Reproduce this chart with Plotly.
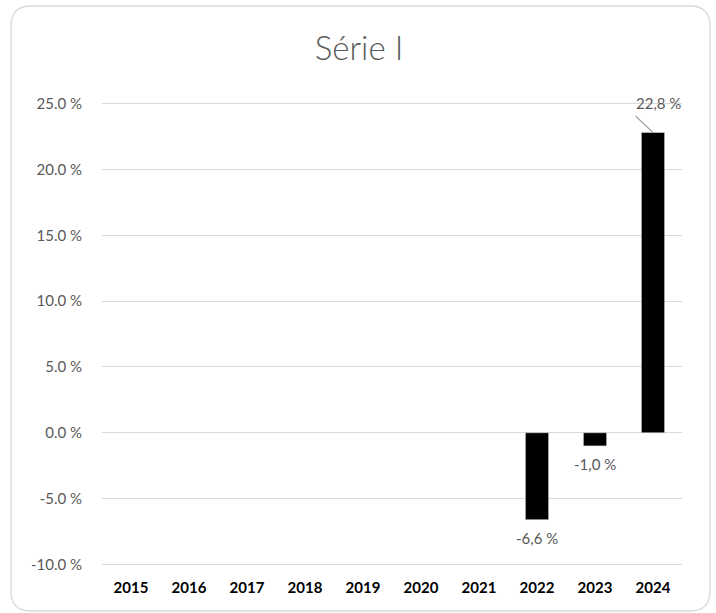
import plotly.graph_objects as go

years = ["2015", "2016", "2017", "2018", "2019", "2020", "2021", "2022", "2023", "2024"]
values = [None, None, None, None, None, None, None, -6.6, -1.0, 22.8]
labels = ["", "", "", "", "", "", "", "-6,6 %", "-1,0 %", "22,8 %"]
y_ticks = [-10, -5, 0, 5, 10, 15, 20, 25]
y_ticktext = ["-10.0 %", "-5.0 %", "0.0 %", "5.0 %", "10.0 %", "15.0 %", "20.0 %", "25.0 %"]
title = "Série I"

W, H = 716, 613
ML, MR, MT, MB = 102, 34, 102, 47
PW, PH = W - ML - MR, H - MT - MB

def px(x):
    return (x - ML) / PW

def py(y):
    return (H - MB - y) / PH

fig = go.Figure()
fig.add_trace(go.Bar(x=years, y=values, marker_color="#000000", hoverinfo="skip"))

font = "Lato, 'Open Sans', sans-serif"
gray = "#595959"

annotations = []
for i, (v, t) in enumerate(zip(values, labels)):
    if v is None:
        continue
    if v >= 0:
        annotations.append(dict(x=i, y=v, xref="x", yref="y", text=" ",
                                showarrow=True, arrowhead=0, arrowwidth=1.2,
                                arrowcolor="#a6a6a6", ax=-18, ay=-17,
                                axref="pixel", ayref="pixel", standoff=0,
                                borderpad=0, font=dict(size=1)))
        annotations.append(dict(x=i, y=v, xref="x", yref="y", text=t,
                                showarrow=False, xshift=5, yshift=30,
                                font=dict(family=font, size=15, color=gray)))
    else:
        annotations.append(dict(x=i, y=v, xref="x", yref="y", text=t,
                                showarrow=False, yshift=-18,
                                font=dict(family=font, size=15, color=gray)))

# rounded chart frame
x0, x1, y0, y1, r = 11, 710, 6, 611, 20
path = (f"M {px(x0+r):.5f} {py(y0):.5f} L {px(x1-r):.5f} {py(y0):.5f} "
        f"Q {px(x1):.5f} {py(y0):.5f} {px(x1):.5f} {py(y0+r):.5f} "
        f"L {px(x1):.5f} {py(y1-r):.5f} Q {px(x1):.5f} {py(y1):.5f} {px(x1-r):.5f} {py(y1):.5f} "
        f"L {px(x0+r):.5f} {py(y1):.5f} Q {px(x0):.5f} {py(y1):.5f} {px(x0):.5f} {py(y1-r):.5f} "
        f"L {px(x0):.5f} {py(y0+r):.5f} Q {px(x0):.5f} {py(y0):.5f} {px(x0+r):.5f} {py(y0):.5f} Z")

fig.update_layout(
    width=W, height=H,
    margin=dict(l=ML, r=MR, t=MT, b=MB),
    plot_bgcolor="white", paper_bgcolor="white",
    showlegend=False,
    bargap=0.6,
    title=dict(text=title, x=359 / W, xanchor="center",
               y=1 - 48 / H, yanchor="middle",
               font=dict(family=font, size=33, color=gray, weight=300)),
    annotations=annotations,
    shapes=[dict(type="path", path=path, xref="paper", yref="paper",
                 line=dict(color="#d9d9d9", width=1.3), layer="below")],
)
fig.update_xaxes(type="category", range=[-0.5, 9.5],
                 showgrid=False, showline=False, ticks="outside", ticklen=8,
                 tickcolor="rgba(0,0,0,0)",
                 tickfont=dict(family=font, size=15, color="#000000", weight="bold"))
fig.update_yaxes(range=[-10.12, 25.12], tickvals=y_ticks, ticktext=y_ticktext,
                 showgrid=True, gridcolor="#d9d9d9", gridwidth=1,
                 zeroline=False, showline=False, ticks="outside", ticklen=16,
                 tickcolor="rgba(0,0,0,0)",
                 tickfont=dict(family=font, size=15, color=gray))

fig.write_html("out.html")
